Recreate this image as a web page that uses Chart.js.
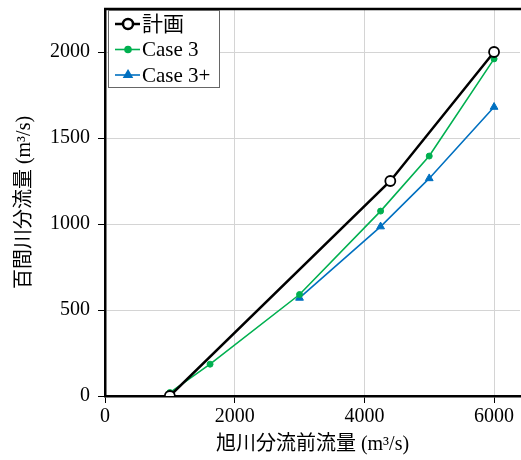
<!DOCTYPE html>
<html>
<head>
<meta charset="utf-8">
<script src="https://cdn.jsdelivr.net/npm/chart.js@4"></script>
<style>
body{margin:0;background:#fff}
#wrap{width:521px;height:460px}
</style>
</head>
<body>
<div id="wrap"><canvas id="c" width="521" height="460"></canvas></div>
<script>

// 旭川分流前流量 (x) / 百間川分流量 (y)
let planX=[1000,4400,6000]
let planY=[0,1250,2000]

let case3X=[1000,1620,3000,4250,5000,6000]
let case3Y=[20,185,590,1075,1395,1960]

let case3pX=[3000,4250,5000,6000]
let case3pY=[570,985,1265,1680]

let xTicks=[0,2000,4000,6000]
let yTicks=[0,500,1000,1500,2000]

let fontFam="'Liberation Serif','Noto Sans CJK JP',serif"

function pts(xs,ys){
return xs.map((x,i)=>({x:x,y:ys[i]}))
}

// legend drawn inside the plot, top left
let boxLegend={
id:"boxLegend",
afterDraw(chart){
let ctx=chart.ctx
let a=chart.chartArea
// top frame
ctx.save()
ctx.strokeStyle="#000"
ctx.lineWidth=2.5
ctx.beginPath()
ctx.moveTo(a.left-1,a.top)
ctx.lineTo(a.right+1,a.top)
ctx.stroke()

let bx=a.left+3, by=a.top+1, bw=111, bh=77
ctx.fillStyle="#fff"
ctx.fillRect(bx,by,bw,bh)
ctx.strokeStyle="#666"
ctx.lineWidth=1
ctx.strokeRect(bx+0.5,by+0.5,bw,bh)

ctx.font="21px "+fontFam
ctx.textBaseline="middle"
chart.data.datasets.forEach((ds,i)=>{
let y=by+14+i*25.5
ctx.strokeStyle=ds.borderColor
ctx.lineWidth=ds.borderWidth
ctx.beginPath()
ctx.moveTo(bx+7,y)
ctx.lineTo(bx+32,y)
ctx.stroke()
ctx.fillStyle=ds.pointBackgroundColor
ctx.strokeStyle=ds.borderColor
Chart.helpers.drawPoint(ctx,{pointStyle:ds.pointStyle,radius:ds.pointRadius,rotation:0,borderWidth:ds.pointBorderWidth},bx+20,y)
ctx.fillStyle="#000"
ctx.fillText(ds.label,bx+34,y+1)
})
ctx.restore()
}
}

new Chart(document.getElementById("c"),{

type:"scatter",

data:{

datasets:[{
label:"計画",
data:pts(planX,planY),
showLine:true,
borderColor:"#000",
borderWidth:2.5,
pointStyle:"circle",
pointRadius:5,
pointBorderWidth:1.8,
pointBackgroundColor:"#fff"
},{
label:"Case 3",
data:pts(case3X,case3Y),
showLine:true,
borderColor:"#00b050",
borderWidth:1.6,
pointStyle:"circle",
pointRadius:3,
pointBorderWidth:1,
pointBackgroundColor:"#00b050"
},{
label:"Case 3+",
data:pts(case3pX,case3pY),
showLine:true,
borderColor:"#0070c0",
borderWidth:1.6,
pointStyle:"triangle",
pointRadius:4.5,
pointBorderWidth:1,
pointBackgroundColor:"#0070c0"
}]

},

options:{

responsive:false,
animation:false,
layout:{autoPadding:false,padding:{top:9,right:1,left:0,bottom:0}},

plugins:{
legend:{display:false},
tooltip:{enabled:false}
},

scales:{

x:{
type:"linear",
min:0,
max:6400,
afterBuildTicks:s=>{s.ticks=xTicks.map(v=>({value:v}))},
afterFit:s=>{s.height=64;s.paddingLeft=0;s.paddingRight=0},
ticks:{color:"#000",font:{family:fontFam,size:20},padding:2,callback:v=>String(v)},
grid:{color:"#d4d4d4",lineWidth:1,tickLength:7,tickColor:"#000",tickWidth:1},
border:{color:"#000",width:2.5},
title:{display:true,text:"旭川分流前流量 (m³/s)",color:"#000",font:{family:fontFam,size:20},padding:{top:0,bottom:3}}
},

y:{
type:"linear",
min:0,
max:2250,
afterBuildTicks:s=>{s.ticks=yTicks.map(v=>({value:v}))},
afterFit:s=>{s.width=105;s.paddingTop=0;s.paddingBottom=0},
ticks:{color:"#000",font:{family:fontFam,size:20},padding:8,callback:v=>String(v)},
grid:{color:"#d4d4d4",lineWidth:1,tickLength:7,tickColor:"#000",tickWidth:1},
border:{color:"#000",width:2.5},
title:{display:true,text:"百間川分流量 (m³/s)",color:"#000",font:{family:fontFam,size:20},padding:{top:13,bottom:0}}
}

}

},

plugins:[boxLegend]

})

</script>
</body>
</html>
